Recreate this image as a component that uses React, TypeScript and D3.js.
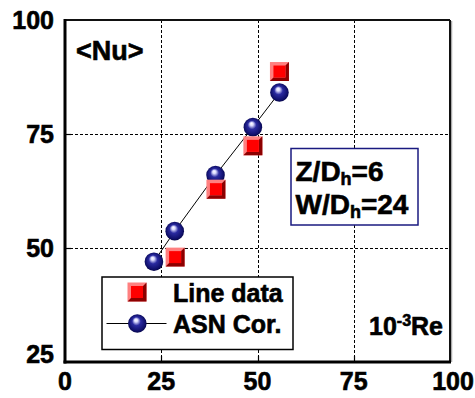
import * as d3 from "d3";

// Line data (squares)
const lineRe = [28.6, 39.2, 48.8, 55.7];
const lineNu = [48.0, 62.9, 72.4, 88.7];

// ASN correlation (spheres + line)
const asnRe = [23.1, 28.5, 39.1, 48.8, 55.7];
const asnNu = [47.0, 53.7, 66.0, 76.5, 84.1];

const xTicks = [0, 25, 50, 75, 100];
const yTicks = [25, 50, 75, 100];
const legendLabels = ["Line data", "ASN Cor."];

const W = 475;
const H = 398;
const FONT = "'Liberation Sans', Arial, Helvetica, sans-serif";

const margin = { top: 20, right: 25, bottom: 36, left: 65 };

// heavier bold, the reference text is quite dark
const txt = { fill: "#000", stroke: "#000", strokeWidth: 0.6 };

const Square = ({ cx, cy, s = 19 }: { cx: number; cy: number; s?: number }) => {
  const h = s / 2;
  const b = 3.5;
  const x0 = cx - h, y0 = cy - h, x1 = cx + h, y1 = cy + h;
  return (
    <g>
      <rect x={x0} y={y0} width={s} height={s} fill="#ff8080" />
      <polygon
        points={`${x1},${y0} ${x1},${y1} ${x0},${y1} ${x0 + b},${y1 - b} ${x1 - b},${y1 - b} ${x1 - b},${y0 + b}`}
        fill="#8c0000"
      />
      <rect x={x0 + b} y={y0 + b} width={s - 2 * b} height={s - 2 * b} fill="#ff0000" />
    </g>
  );
};

const Sphere = ({ cx, cy, r = 9.3 }: { cx: number; cy: number; r?: number }) => (
  <circle cx={cx} cy={cy} r={r} fill="url(#sphere)" />
);

export default function App() {
  const x = d3.scaleLinear().domain([0, 100]).range([margin.left, W - margin.right]);
  const y = d3.scaleLinear().domain([25, 100]).range([H - margin.bottom, margin.top]);

  const [x0, x1] = x.range();
  const [y0, y1] = y.range();

  const linePath = d3
    .line<number>()
    .x((_, i) => x(asnRe[i]))
    .y((d) => y(d))(asnNu);

  return (
    <svg
      width={W}
      height={H}
      style={{ position: "absolute", left: 0, top: 0, background: "#fff" }}
      fontFamily={FONT}
      fontWeight="bold"
    >
      <defs>
        <radialGradient id="sphere" cx="0.5" cy="0.5" r="0.55" fx="0.42" fy="0.3">
          <stop offset="0" stopColor="#ffffff" />
          <stop offset="0.16" stopColor="#dcdcff" />
          <stop offset="0.42" stopColor="#2a2aa0" />
          <stop offset="0.8" stopColor="#10106c" />
          <stop offset="1" stopColor="#000038" />
        </radialGradient>
      </defs>

      {/* grid */}
      <g shapeRendering="crispEdges">
        {xTicks.slice(1, -1).map((t) => (
          <line key={"gx" + t} x1={Math.round(x(t)) + 0.5} x2={Math.round(x(t)) + 0.5} y1={y1} y2={y0} stroke="#000" strokeWidth={1} strokeDasharray="3,2" />
        ))}
        {yTicks.slice(1, -1).map((t) => (
          <line key={"gy" + t} x1={x0} x2={x1} y1={Math.round(y(t)) + 0.5} y2={Math.round(y(t)) + 0.5} stroke="#000" strokeWidth={1} strokeDasharray="3,2" />
        ))}
      </g>

      {/* inner ticks */}
      {xTicks.slice(1, -1).map((t) => (
        <line key={"tx" + t} x1={Math.round(x(t)) + 0.5} x2={Math.round(x(t)) + 0.5} y1={y0} y2={y0 - 6} stroke="#000" strokeWidth={1.2} />
      ))}
      {yTicks.slice(1, -1).map((t) => (
        <line key={"ty" + t} x1={x0} x2={x0 + 6} y1={Math.round(y(t)) + 0.5} y2={Math.round(y(t)) + 0.5} stroke="#000" strokeWidth={1.2} />
      ))}

      {/* frame */}
      <line x1={x1 + 1.5} x2={x1 + 1.5} y1={y1 + 1} y2={y0} stroke="#aaa" strokeWidth={1.5} />
      <line x1={x0} x2={x1} y1={y1} y2={y1} stroke="#111" strokeWidth={2} />
      <line x1={x1} x2={x1} y1={y1} y2={y0} stroke="#111" strokeWidth={2} />
      <line x1={x0} x2={x0} y1={y1 - 1} y2={y0 + 1.5} stroke="#000" strokeWidth={3} />
      <line x1={x0 - 1.5} x2={x1 + 1} y1={y0} y2={y0} stroke="#000" strokeWidth={3} />

      {/* tick labels */}
      {yTicks.map((t) => (
        <text key={"ly" + t} {...txt} x={x0 - 11} y={y(t) + (t === 25 ? 1 : 9)} textAnchor="end" fontSize={25}>
          {t}
        </text>
      ))}
      {xTicks.map((t) => (
        <text key={"lx" + t} {...txt} x={x(t) + (t === 100 ? 3 : 0)} y={390} textAnchor="middle" fontSize={25}>
          {t}
        </text>
      ))}

      {/* series */}
      <path d={linePath ?? ""} fill="none" stroke="#000" strokeWidth={1} />
      {asnRe.map((v, i) => (
        <Sphere key={"c" + i} cx={x(v)} cy={y(asnNu[i])} />
      ))}
      {lineRe.map((v, i) => (
        <Square key={"s" + i} cx={x(v)} cy={y(lineNu[i])} />
      ))}

      {/* labels */}
      <text {...txt} x={76} y={60} fontSize={27}>
        {"<Nu>"}
      </text>

      <rect x={291} y={148.5} width={127} height={76.5} fill="#fff" stroke="#1a1a80" strokeWidth={1.5} />
      <text {...txt} x={295.5} y={181} fontSize={28}>
        Z/D<tspan fontSize={18} dy={4}>h</tspan>
        <tspan dy={-4}>=6</tspan>
      </text>
      <text {...txt} x={295.5} y={214} fontSize={28}>
        W/D<tspan fontSize={18} dy={4}>h</tspan>
        <tspan dy={-4}>=24</tspan>
      </text>

      {/* legend */}
      <rect x={102} y={277} width={191} height={72.5} fill="#fff" stroke="#000" strokeWidth={1.5} />
      <Square cx={137} cy={292} />
      <line x1={106.5} x2={166.5} y1={323.5} y2={323.5} stroke="#000" strokeWidth={1} />
      <Sphere cx={137.3} cy={323.5} />
      <text {...txt} x={173} y={301.5} fontSize={25}>
        {legendLabels[0]}
      </text>
      <text {...txt} x={173} y={333} fontSize={25}>
        {legendLabels[1]}
      </text>

      <text {...txt} x={443} y={335} textAnchor="end" fontSize={25}>
        10<tspan fontSize={16} dy={-9}>-3</tspan>
        <tspan dy={9}>Re</tspan>
      </text>
    </svg>
  );
}
